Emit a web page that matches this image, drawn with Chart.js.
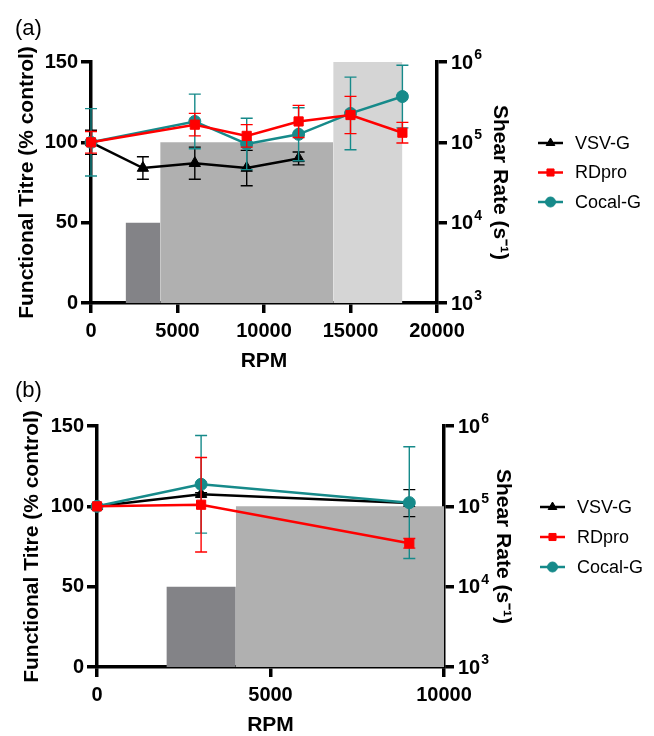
<!DOCTYPE html>
<html>
<head>
<meta charset="utf-8">
<script src="https://cdn.jsdelivr.net/npm/chart.js@4.4.1/dist/chart.umd.min.js"></script>
<style>
    html, body { margin: 0; padding: 0; background: #fff; overflow: hidden; }
    #wrap { position: relative; width: 654px; height: 736px; }
    .panel { position: absolute; left: 0; width: 654px; }
    .tag { position: absolute; left: 15px; font: 22px/1 "Liberation Sans", Arial, sans-serif; color: #000; z-index: 2; }
</style>
</head>
<body>
<div id="wrap">
    <div class="tag" style="top:17px">(a)</div>
    <div class="tag" style="top:379px">(b)</div>
    <div class="panel" style="top:0; height:372px"><canvas id="chartA"></canvas></div>
    <div class="panel" style="top:368px; height:368px"><canvas id="chartB"></canvas></div>
</div>
<script>
// panel (a)
const rpmA = [0, 3000, 6000, 9000, 12000, 15000, 18000];
const vsvA = [100, 84, 87, 84, 90, null, null];
const vsvErrA = [7.5, 7, 10, 11, 4, null, null];
const rdproA = [100, null, 111, 104, 113, 117, 106];
const rdproErrA = [6.7, null, 7, 7, 10, 11.6, 6.4];
const cocalA = [100, null, 113, 99, 105, 118, 128.5];
const cocalErrA = [21, null, 17, 16, 16.5, 22.6, 19.5];
const shearFromA = [2000, 4000, 14000];
const shearToA = [4000, 14000, 18000];
const shearA = [1e4, 1e5, 1e6];

// panel (b)
const rpmB = [0, 3000, 9000];
const vsvB = [100, 107.5, 102];
const vsvErrB = [0, 1, 8.4];
const rdproB = [100, 101, 77];
const rdproErrB = [0, 29.4, 3];
const cocalB = [100, 113.7, 102.3];
const cocalErrB = [0, 30.4, 34.8];
const shearFromB = [2000, 4000];
const shearToB = [4000, 10000];
const shearB = [1e4, 1e5];

// axis ticks
const titreTicks = [0, 50, 100, 150];
const shearTicks = [1e3, 1e4, 1e5, 1e6];
const shearExponents = ["3", "4", "5", "6"];

const seriesNames = ["VSV-G", "RDpro", "Cocal-G"];
const seriesColors = ["#000000", "#ff0000", "#168a8a"];
const seriesPoints = ["triangle", "rect", "circle"];
const shearColors = ["#838387", "#b0b0b0", "#d5d5d5"];

const FONT = "'Liberation Sans', Arial, sans-serif";
Chart.defaults.font.family = FONT;
Chart.defaults.color = "#000";

// error bars drawn just before each line dataset
const errorBars = {
    id: "errorBars",
    beforeDatasetDraw(chart, args) {
        let ds = chart.data.datasets[args.index];
        if (!ds.errors) return;
        let meta = args.meta;
        let ctx = chart.ctx;
        ctx.save();
        ctx.strokeStyle = ds.borderColor;
        ctx.lineWidth = 1.4;
        for (let i = 0; i < ds.data.length; i++) {
            let p = ds.data[i];
            let e = ds.errors[i];
            if (p.y === null || !e) continue;
            let x = meta.xScale.getPixelForValue(p.x);
            let top = meta.yScale.getPixelForValue(p.y + e);
            let bot = meta.yScale.getPixelForValue(p.y - e);
            ctx.beginPath();
            ctx.moveTo(x, top); ctx.lineTo(x, bot);
            ctx.moveTo(x - 6, top); ctx.lineTo(x + 6, top);
            ctx.moveTo(x - 6, bot); ctx.lineTo(x + 6, bot);
            ctx.stroke();
        }
        ctx.restore();
    }
};

// 10^n labels on the shear axis, with a raised exponent
const powerLabels = {
    id: "powerLabels",
    afterDraw(chart) {
        let s = chart.scales.y2;
        let ctx = chart.ctx;
        ctx.save();
        ctx.fillStyle = "#000";
        ctx.textBaseline = "middle";
        shearTicks.forEach((v, i) => {
            let y = s.getPixelForValue(v);
            let x = s.left + 14;
            ctx.font = "bold 20px " + FONT;
            ctx.fillText("10", x, y + 1);
            let w = ctx.measureText("10").width;
            ctx.font = "bold 14px " + FONT;
            ctx.fillText(shearExponents[i], x + w + 1, y - 7);
        });
        ctx.restore();
    }
};

// legend on the right: line + marker + name
const sideLegend = {
    id: "sideLegend",
    afterDraw(chart, args, opts) {
        let ctx = chart.ctx;
        let row = 0;
        chart.data.datasets.forEach(ds => {
            if (!ds.errors) return;
            let y = opts.y + row * opts.gap;
            ctx.save();
            ctx.strokeStyle = ds.borderColor;
            ctx.lineWidth = 2.5;
            ctx.beginPath();
            ctx.moveTo(opts.x, y);
            ctx.lineTo(opts.x + 25, y);
            ctx.stroke();
            ctx.fillStyle = ds.backgroundColor;
            ctx.lineWidth = 1;
            Chart.helpers.drawPoint(ctx, { pointStyle: ds.pointStyle, radius: 5, rotation: 0, borderWidth: 1 }, opts.x + 12.5, y);
            ctx.fillStyle = "#000";
            ctx.font = "18px " + FONT;
            ctx.textBaseline = "middle";
            ctx.fillText(ds.label, opts.x + 37, y + 1);
            ctx.restore();
            row++;
        });
    }
};

function lineSet(k, xs, ys, errs) {
    return {
        type: "line",
        label: seriesNames[k],
        data: xs.map((x, i) => ({ x: x, y: ys[i] })),
        errors: errs,
        yAxisID: "y",
        borderColor: seriesColors[k],
        backgroundColor: seriesColors[k],
        borderWidth: 2.5,
        pointStyle: seriesPoints[k],
        pointRadius: k === 2 ? 6 : 6.5,
        pointBorderWidth: 1,
        spanGaps: true,
        clip: false,
        fill: false,
        order: [3, 1, 2][k]
    };
}

function shearSets(from, to, vals) {
    return vals.map((v, i) => ({
        type: "line",
        data: [{ x: from[i], y: v }, { x: to[i], y: v }],
        yAxisID: "y2",
        borderColor: "rgba(0,0,0,0)",
        borderWidth: 0,
        backgroundColor: shearColors[i],
        pointRadius: 0,
        fill: "start",
        order: 10
    }));
}

function axisCommon() {
    return {
        grid: { display: true, drawOnChartArea: false, drawTicks: true, tickLength: 10, lineWidth: 3.5, color: "#000" },
        border: { display: true, width: 3.5, color: "#000" },
        ticks: { font: { size: 20, weight: "bold" }, color: "#000" }
    };
}

function makeChart(id, cfg) {
    let x = axisCommon();
    x.type = "linear";
    x.min = 0;
    x.max = cfg.xmax;
    x.ticks.stepSize = 5000;
    x.ticks.padding = 6;
    x.ticks.maxRotation = 0;
    x.ticks.callback = v => String(v);
    x.title = { display: true, text: "RPM", font: { size: 21, weight: "bold", lineHeight: 1 }, padding: { top: 0, bottom: cfg.rpmPad } };
    x.afterFit = s => { s.height = cfg.xh; };

    let y = axisCommon();
    y.position = "left";
    y.min = 0;
    y.max = 150;
    y.afterBuildTicks = s => { s.ticks = titreTicks.map(v => ({ value: v })); };
    y.title = { display: true, text: "Functional Titre (% control)", font: { size: 21, weight: "bold", lineHeight: 1 }, padding: 4 };
    y.afterFit = s => { s.width = cfg.yw; };

    let y2 = axisCommon();
    y2.type = "logarithmic";
    y2.position = "right";
    y2.min = 1e3;
    y2.max = 1e6;
    y2.afterBuildTicks = s => { s.ticks = shearTicks.map(v => ({ value: v })); };
    y2.ticks.display = false;
    y2.title = { display: true, text: "Shear Rate (s⁻¹)", font: { size: 21, weight: "bold", lineHeight: 1 }, padding: 4 };
    y2.afterFit = s => { s.width = cfg.y2w; };

    return new Chart(document.getElementById(id), {
        type: "line",
        data: { datasets: cfg.datasets },
        options: {
            responsive: true,
            maintainAspectRatio: false,
            animation: false,
            events: [],
            layout: { padding: cfg.pad },
            scales: { x: x, y: y, y2: y2 },
            plugins: {
                legend: { display: false },
                tooltip: { enabled: false },
                sideLegend: cfg.legend
            }
        },
        plugins: [errorBars, powerLabels, sideLegend]
    });
}

makeChart("chartA", {
    xmax: 20000,
    xh: 69,
    yw: 78,
    y2w: 77.5,
    rpmPad: 0.5,
    pad: { left: 13, right: 139.5, top: 62, bottom: 0 },
    legend: { x: 538, y: 143, gap: 29.5 },
    datasets: [
        lineSet(0, rpmA, vsvA, vsvErrA),
        lineSet(1, rpmA, rdproA, rdproErrA),
        lineSet(2, rpmA, cocalA, cocalErrA)
    ].concat(shearSets(shearFromA, shearToA, shearA))
});

makeChart("chartB", {
    xmax: 10000,
    xh: 69,
    yw: 79.5,
    y2w: 73.5,
    rpmPad: 0,
    pad: { left: 17.5, right: 136.5, top: 58, bottom: 0 },
    legend: { x: 540, y: 139, gap: 30 },
    datasets: [
        lineSet(0, rpmB, vsvB, vsvErrB),
        lineSet(1, rpmB, rdproB, rdproErrB),
        lineSet(2, rpmB, cocalB, cocalErrB)
    ].concat(shearSets(shearFromB, shearToB, shearB))
});
</script>
</body>
</html>
